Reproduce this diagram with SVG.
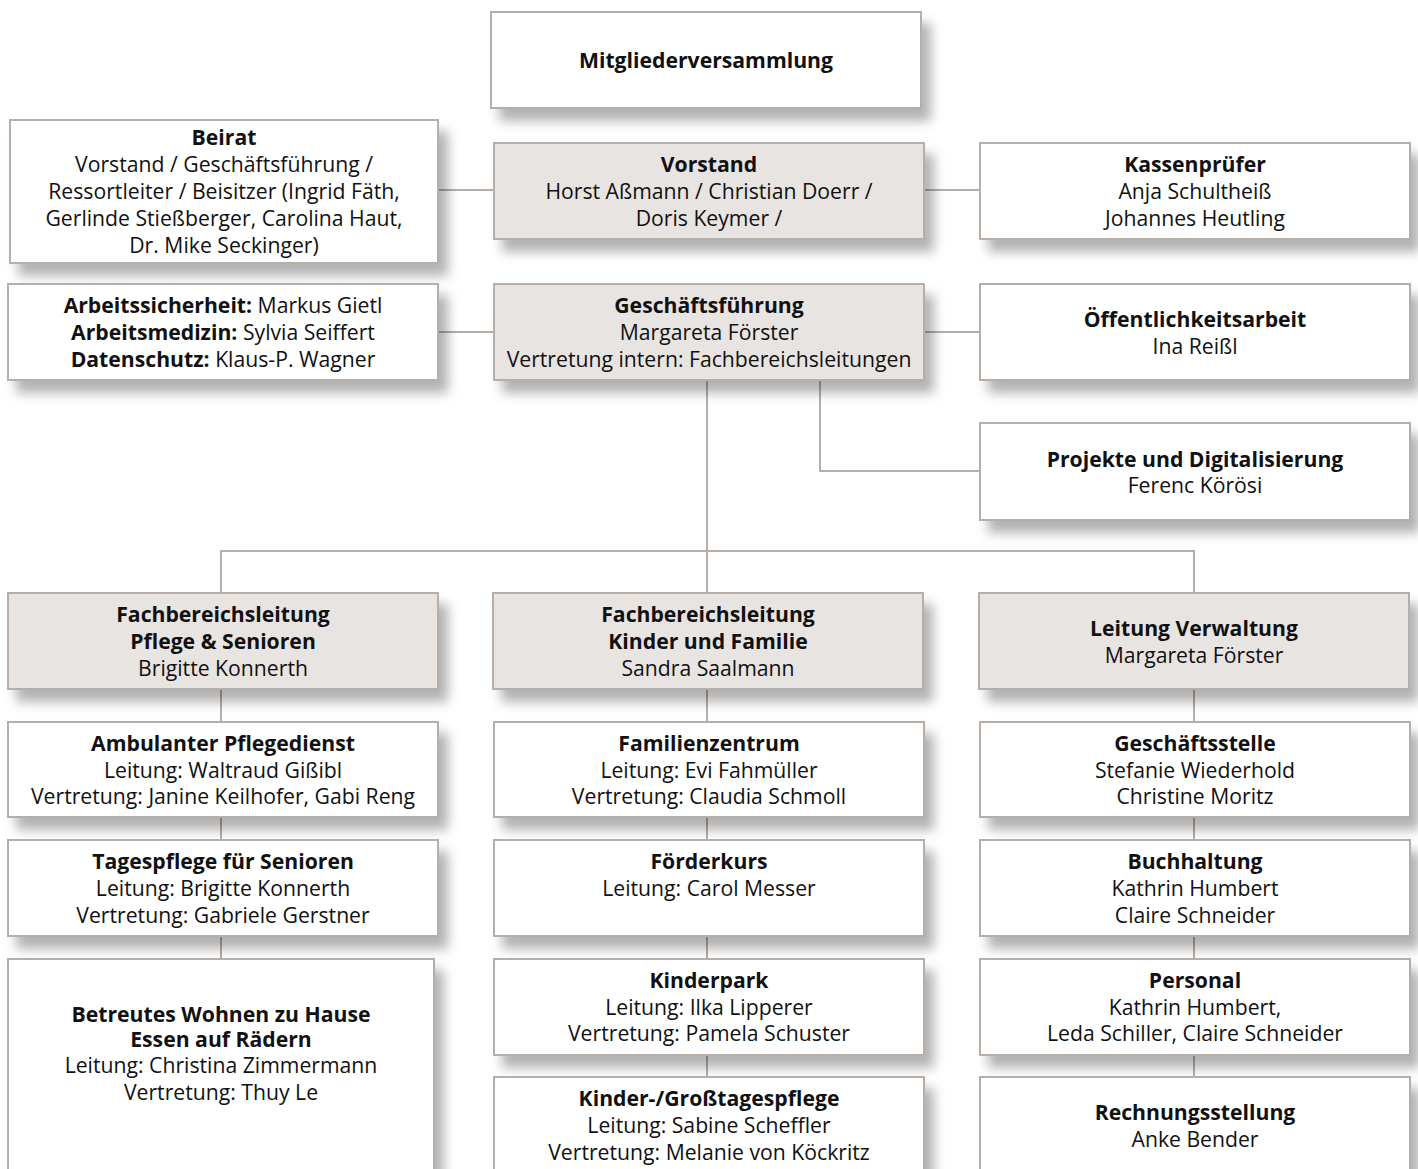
<svg xmlns="http://www.w3.org/2000/svg" width="1418" height="1169" viewBox="0 0 1418 1169">
<style>
.b{fill:#ffffff;stroke:#b7aea8;stroke-width:2;filter:url(#sh)}
.g{fill:#e8e4e1;stroke:#b7aea8;stroke-width:2;filter:url(#sh)}
text{font-family:"Open Sans","Noto Sans",sans-serif;font-size:21.2px;fill:#111;text-anchor:middle}
.t{font-weight:bold}
.c{fill:none;stroke:#b7aea8;stroke-width:2}
</style>
<defs>
<filter id="sh" x="-10%" y="-20%" width="130%" height="160%">
<feDropShadow dx="9" dy="12" stdDeviation="6" flood-color="#000" flood-opacity="0.3"/>
</filter>
</defs>
<rect width="1418" height="1169" fill="#fff"/>
<g id="connectors">
<line class="c" x1="438" y1="190" x2="494" y2="190"/>
<line class="c" x1="924" y1="190" x2="980" y2="190"/>
<line class="c" x1="438" y1="332" x2="494" y2="332"/>
<line class="c" x1="924" y1="332" x2="980" y2="332"/>
<line class="c" x1="707" y1="380" x2="707" y2="593"/>
<polyline class="c" points="820,380 820,471 980,471"/>
<polyline class="c" points="221,593 221,551 1194,551 1194,593"/>
<line class="c" x1="221" y1="689" x2="221" y2="722"/>
<line class="c" x1="221" y1="817" x2="221" y2="840"/>
<line class="c" x1="221" y1="936" x2="221" y2="959"/>
<line class="c" x1="707" y1="689" x2="707" y2="722"/>
<line class="c" x1="707" y1="817" x2="707" y2="840"/>
<line class="c" x1="707" y1="936" x2="707" y2="959"/>
<line class="c" x1="707" y1="1055" x2="707" y2="1077"/>
<line class="c" x1="1194" y1="689" x2="1194" y2="722"/>
<line class="c" x1="1194" y1="817" x2="1194" y2="840"/>
<line class="c" x1="1194" y1="936" x2="1194" y2="959"/>
<line class="c" x1="1194" y1="1055" x2="1194" y2="1077"/>
</g>
<g id="mitglieder"><rect class="b" x="491" y="12" width="430" height="96"/><text class="t" x="706" y="68">Mitgliederversammlung</text></g>
<g id="beirat"><rect class="b" x="10" y="120" width="428" height="143"/>
<text class="t" x="224" y="145">Beirat</text>
<text x="224" y="172">Vorstand / Geschäftsführung /</text>
<text x="224" y="199">Ressortleiter / Beisitzer (Ingrid Fäth,</text>
<text x="224" y="226">Gerlinde Stießberger, Carolina Haut,</text>
<text x="224" y="253">Dr. Mike Seckinger)</text></g>
<g id="vorstand"><rect class="g" x="494" y="143" width="430" height="96"/>
<text class="t" x="709" y="172">Vorstand</text>
<text x="709" y="199">Horst Aßmann / Christian Doerr /</text>
<text x="709" y="226">Doris Keymer /</text></g>
<g id="kassenpruefer"><rect class="b" x="980" y="143" width="430" height="96"/>
<text class="t" x="1195" y="172">Kassenprüfer</text>
<text x="1195" y="199">Anja Schultheiß</text>
<text x="1195" y="226">Johannes Heutling</text></g>
<g id="arbeitssicherheit"><rect class="b" x="8" y="284" width="430" height="96"/>
<text x="223" y="313"><tspan class="t">Arbeitssicherheit:</tspan> Markus Gietl</text>
<text x="223" y="340"><tspan class="t">Arbeitsmedizin:</tspan> Sylvia Seiffert</text>
<text x="223" y="367"><tspan class="t">Datenschutz:</tspan> Klaus-P. Wagner</text></g>
<g id="geschaeftsfuehrung"><rect class="g" x="494" y="284" width="430" height="96"/>
<text class="t" x="709" y="313">Geschäftsführung</text>
<text x="709" y="340">Margareta Förster</text>
<text x="709" y="367">Vertretung intern: Fachbereichsleitungen</text></g>
<g id="oeffentlichkeitsarbeit"><rect class="b" x="980" y="284" width="430" height="96"/>
<text class="t" x="1195" y="327">Öffentlichkeitsarbeit</text>
<text x="1195" y="354">Ina Reißl</text></g>
<g id="projekte"><rect class="b" x="980" y="423" width="430" height="97"/>
<text class="t" x="1195" y="467">Projekte und Digitalisierung</text>
<text x="1195" y="493">Ferenc Körösi</text></g>
<g id="fb-pflege"><rect class="g" x="8" y="593" width="430" height="96"/>
<text class="t" x="223" y="622">Fachbereichsleitung</text>
<text class="t" x="223" y="649">Pflege &amp; Senioren</text>
<text x="223" y="676">Brigitte Konnerth</text></g>
<g id="fb-kinder"><rect class="g" x="493" y="593" width="430" height="96"/>
<text class="t" x="708" y="622">Fachbereichsleitung</text>
<text class="t" x="708" y="649">Kinder und Familie</text>
<text x="708" y="676">Sandra Saalmann</text></g>
<g id="leitung-verwaltung"><rect class="g" x="979" y="593" width="430" height="96"/>
<text class="t" x="1194" y="636">Leitung Verwaltung</text>
<text x="1194" y="663">Margareta Förster</text></g>
<g id="ambulant"><rect class="b" x="8" y="722" width="430" height="95"/>
<text class="t" x="223" y="751">Ambulanter Pflegedienst</text>
<text x="223" y="778">Leitung: Waltraud Gißibl</text>
<text x="223" y="804">Vertretung: Janine Keilhofer, Gabi Reng</text></g>
<g id="familienzentrum"><rect class="b" x="494" y="722" width="430" height="95"/>
<text class="t" x="709" y="751">Familienzentrum</text>
<text x="709" y="778">Leitung: Evi Fahmüller</text>
<text x="709" y="804">Vertretung: Claudia Schmoll</text></g>
<g id="geschaeftsstelle"><rect class="b" x="980" y="722" width="430" height="95"/>
<text class="t" x="1195" y="751">Geschäftsstelle</text>
<text x="1195" y="778">Stefanie Wiederhold</text>
<text x="1195" y="804">Christine Moritz</text></g>
<g id="tagespflege"><rect class="b" x="8" y="840" width="430" height="96"/>
<text class="t" x="223" y="869">Tagespflege für Senioren</text>
<text x="223" y="896">Leitung: Brigitte Konnerth</text>
<text x="223" y="923">Vertretung: Gabriele Gerstner</text></g>
<g id="foerderkurs"><rect class="b" x="494" y="840" width="430" height="96"/>
<text class="t" x="709" y="869">Förderkurs</text>
<text x="709" y="896">Leitung: Carol Messer</text></g>
<g id="buchhaltung"><rect class="b" x="980" y="840" width="430" height="96"/>
<text class="t" x="1195" y="869">Buchhaltung</text>
<text x="1195" y="896">Kathrin Humbert</text>
<text x="1195" y="923">Claire Schneider</text></g>
<g id="betreutes-wohnen"><rect class="b" x="8" y="959" width="426" height="240"/>
<text class="t" x="221" y="1022">Betreutes Wohnen zu Hause</text>
<text class="t" x="221" y="1047">Essen auf Rädern</text>
<text x="221" y="1073">Leitung: Christina Zimmermann</text>
<text x="221" y="1100">Vertretung: Thuy Le</text></g>
<g id="kinderpark"><rect class="b" x="494" y="959" width="430" height="96"/>
<text class="t" x="709" y="988">Kinderpark</text>
<text x="709" y="1015">Leitung: Ilka Lipperer</text>
<text x="709" y="1041">Vertretung: Pamela Schuster</text></g>
<g id="personal"><rect class="b" x="980" y="959" width="430" height="96"/>
<text class="t" x="1195" y="988">Personal</text>
<text x="1195" y="1015">Kathrin Humbert,</text>
<text x="1195" y="1041">Leda Schiller, Claire Schneider</text></g>
<g id="grosstagespflege"><rect class="b" x="494" y="1077" width="430" height="120"/>
<text class="t" x="709" y="1106">Kinder-/Großtagespflege</text>
<text x="709" y="1133">Leitung: Sabine Scheffler</text>
<text x="709" y="1160">Vertretung: Melanie von Köckritz</text></g>
<g id="rechnungsstellung"><rect class="b" x="980" y="1077" width="430" height="120"/>
<text class="t" x="1195" y="1120">Rechnungsstellung</text>
<text x="1195" y="1147">Anke Bender</text></g>
</svg>
